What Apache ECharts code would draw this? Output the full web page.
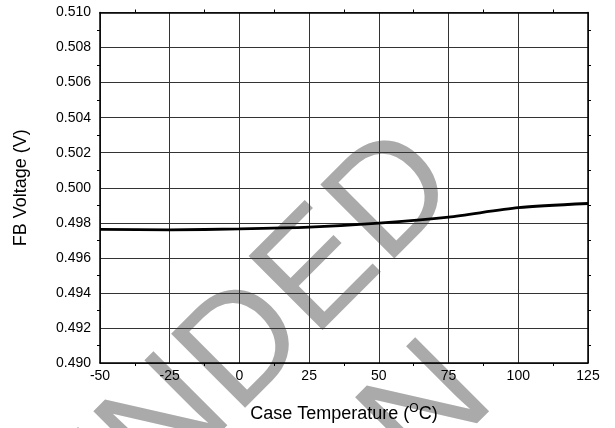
<!DOCTYPE html>
<html>
<head>
<meta charset="utf-8">
<script src="https://cdn.jsdelivr.net/npm/echarts@6/dist/echarts.min.js"></script>
<style>
html,body{margin:0;padding:0;background:#fff;}
#chart{width:615px;height:428px;}
</style>
</head>
<body>
<div id="chart"></div>
<script>
// Data
var temperatures = [-50, -25, 0, 25, 50, 75, 100, 125];
var fbVoltage = [0.49763, 0.49760, 0.49765, 0.49775, 0.49798, 0.49833, 0.49886, 0.49910];
var xTicks = [-50, -25, 0, 25, 50, 75, 100, 125];
var yTicks = [0.490, 0.492, 0.494, 0.496, 0.498, 0.500, 0.502, 0.504, 0.506, 0.508, 0.510];
var xTitle = 'Case Temperature (';
var yTitle = 'FB Voltage (V)';
var watermarkLines = ['NOT RECOMMENDED', 'FOR NEW DESIGN'];

var FONT = '"Liberation Sans", Arial, Helvetica, sans-serif';
var chart = echarts.init(document.getElementById('chart'), null, {renderer: 'canvas'});

var points = temperatures.map(function (t, i) { return [t, fbVoltage[i]]; });

var boxAxisCommon = {
  z: 3,
  axisLine: {show: true, onZero: false, lineStyle: {color: '#000', width: 1.5}},
  axisTick: {show: false},
  minorTick: {show: true, splitNumber: 2, length: 3, lineStyle: {color: '#000', width: 1}},
  splitLine: {show: false},
  axisLabel: {show: false}
};

var option = {
  animation: false,
  backgroundColor: '#fff',
  graphic: {
    z: -5,
    elements: [
      {
        type: 'text', z: -5,
        x: 433.5, y: 159.9, rotation: Math.PI / 4,
        silent: true,
        style: {text: watermarkLines[0], fontSize: 152, fontFamily: FONT, fill: '#aaaaaa', align: 'right', verticalAlign: 'middle'}
      },
      {
        type: 'text', z: -5,
        x: 468.2, y: 372.8, rotation: Math.PI / 4,
        silent: true,
        style: {text: watermarkLines[1], fontSize: 152, fontFamily: FONT, fill: '#aaaaaa', align: 'right', verticalAlign: 'middle'}
      }
    ]
  },
  grid: {left: 100, right: 27, top: 12.5, bottom: 59, containLabel: false},
  xAxis: [
    {
      type: 'value', min: xTicks[0], max: xTicks[xTicks.length - 1], interval: 25,
      position: 'bottom', z: 3,
      axisLine: {show: true, onZero: false, lineStyle: {color: '#000', width: 1.5}},
      axisTick: {show: false},
      minorTick: {show: true, splitNumber: 2, length: 3, lineStyle: {color: '#000', width: 1}},
      splitLine: {show: true, lineStyle: {color: '#333', width: 1}},
      axisLabel: {show: true, margin: 6, color: '#000', fontSize: 14, fontFamily: FONT},
      name: '{a|' + xTitle + '}{sup|O}{a|C)}',
      nameLocation: 'middle', nameGap: 40,
      nameTextStyle: {
        color: '#000', fontSize: 18, fontFamily: FONT,
        rich: {
          a: {fontSize: 18, fontFamily: FONT, color: '#000', lineHeight: 22},
          sup: {fontSize: 12, fontFamily: FONT, color: '#000', verticalAlign: 'top', lineHeight: 22, padding: [0, 0, 8, 0]}
        }
      }
    },
    Object.assign({type: 'value', min: xTicks[0], max: xTicks[xTicks.length - 1], interval: 25, position: 'top'}, boxAxisCommon)
  ],
  yAxis: [
    {
      type: 'value', min: yTicks[0], max: yTicks[yTicks.length - 1], interval: 0.002,
      position: 'left', z: 3,
      axisLine: {show: true, onZero: false, lineStyle: {color: '#000', width: 1.5}},
      axisTick: {show: false},
      minorTick: {show: true, splitNumber: 2, length: 3, lineStyle: {color: '#000', width: 1}},
      splitLine: {show: true, lineStyle: {color: '#333', width: 1}},
      axisLabel: {
        show: true, margin: 9, color: '#000', fontSize: 14, fontFamily: FONT,
        formatter: function (v) { return v.toFixed(3); }
      },
      name: yTitle, nameLocation: 'middle', nameGap: 70, nameRotate: 90,
      nameTextStyle: {color: '#000', fontSize: 18, fontFamily: FONT}
    },
    Object.assign({type: 'value', min: yTicks[0], max: yTicks[yTicks.length - 1], interval: 0.002, position: 'right'}, boxAxisCommon)
  ],
  series: [
    {
      type: 'line', xAxisIndex: 0, yAxisIndex: 0,
      data: points, showSymbol: false, smooth: 0.25,
      lineStyle: {color: '#000', width: 2.8},
      z: 5
    }
  ]
};
chart.setOption(option);
</script>
</body>
</html>
